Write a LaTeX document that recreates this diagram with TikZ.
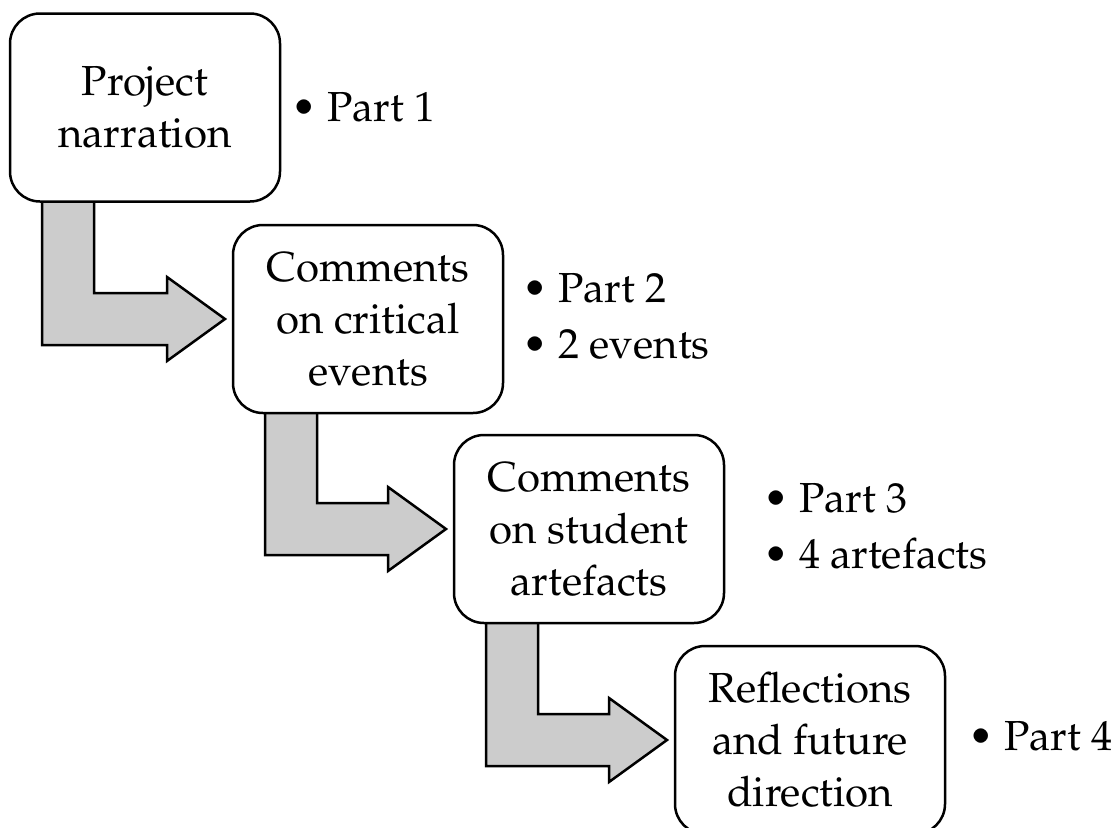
\documentclass[tikz,border=0pt]{standalone}
\usepackage[T1]{fontenc}
\usepackage{mathpazo}
\usepackage{textcomp}
\usetikzlibrary{calc,backgrounds}

% bent block arrow leaving the bottom of one stage and pointing at the next
\newcommand\bentarrow[2]{%
  \path let \p1=(#1.south west), \p2=(#2.west) in
    [bent] (\x1+32pt,\y1) -- (\x1+32pt,\y2-26pt) -- (\x2-66pt,\y2-26pt)
    -- (\x2-66pt,\y2-42pt) -- (\x2-8pt,\y2) -- (\x2-66pt,\y2+42pt)
    -- (\x2-66pt,\y2+26pt) -- (\x1+84pt,\y2+26pt) -- (\x1+84pt,\y1);%
}

\begin{document}
\begin{tikzpicture}[x=1pt,y=-1pt,
  stage/.style={draw, line width=2.5pt, rounded corners=30pt, fill=white,
    minimum width=270pt, minimum height=188pt, align=center, inner sep=0pt,
    outer sep=0pt, font=\fontsize{42}{52}\selectfont},
  note/.style={anchor=base west, inner sep=0pt, font=\fontsize{42}{52}\selectfont},
  bent/.style={draw, line width=2.5pt, fill=black!20, line join=miter}]

\useasboundingbox (0,0) rectangle (1118,827);

\node[stage] (b1) at (145,107.5) {Project\\narration};
\node[stage] (b2) at (368,319) {Comments\\on critical\\events};
\node[stage] (b3) at (589,529) {Comments\\on student\\artefacts};
\node[stage] (b4) at (810,740) {Reflections\\and future\\direction};

\node[note] (n1)  at (291,121) {\textbullet\ Part 1};
\node[note] (n2a) at (522,302) {\textbullet\ Part 2};
\node[note] (n2b) at (522,358) {\textbullet\ 2 events};
\node[note] (n3a) at (763,512) {\textbullet\ Part 3};
\node[note] (n3b) at (763,568) {\textbullet\ 4 artefacts};
\node[note] (n4)  at (968,750) {\textbullet\ Part 4};

\begin{scope}[on background layer]
  \bentarrow{b1}{b2}
  \bentarrow{b2}{b3}
  \bentarrow{b3}{b4}
\end{scope}
\end{tikzpicture}
\end{document}
